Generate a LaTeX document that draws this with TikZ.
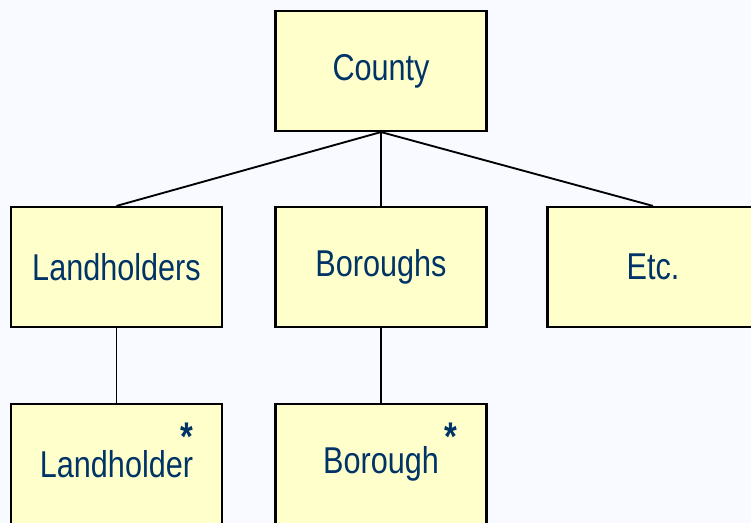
\documentclass[tikz,border=0pt]{standalone}
\usepackage{fontspec}
\setmainfont{Liberation Sans}[FakeStretch=0.82]
\definecolor{pagebg}{RGB}{248,250,255}
\definecolor{boxfill}{RGB}{255,255,204}
\definecolor{labelblue}{RGB}{0,51,102}
\begin{document}
\begin{tikzpicture}[x=0.75pt,y=-0.75pt,
  unit/.style={draw=black,line width=1.6pt,fill=boxfill,minimum width=211*0.75pt,
    minimum height=120*0.75pt,inner sep=0pt,text=labelblue,font=\fontsize{28}{30}\selectfont},
  mult/.style={text=labelblue,font=\bfseries\fontsize{30}{30}\selectfont,inner sep=0pt},
  link/.style={draw=black,line width=1.4pt}]
  \fill[pagebg] (0,0) rectangle (751,523);
  \useasboundingbox (0,0) rectangle (751,523);
  \clip (0,0) rectangle (751,523);
  % hierarchy boxes
  \node[unit] (county) at (381,71) {County};
  \node[unit] (landholders) at (116.5,267) {Landholders};
  \node[unit] (boroughs) at (381,267) {Boroughs};
  \node[unit] (etc) at (653,267) {Etc.};
  \node[unit] (landholder) at (116.5,464) {Landholder};
  \node[unit] (borough) at (381,464) {Borough};
  % repetition markers
  \node[mult] (lhstar) at (187,437) {*};
  \node[mult] (bstar) at (451,437) {*};
  % connectors
  \draw[link] (county.south) -- (landholders.north);
  \draw[link] (county.south) -- (boroughs.north);
  \draw[link] (county.south) -- (etc.north);
  \draw[link] (landholders.south) -- (landholder.north);
  \draw[link] (boroughs.south) -- (borough.north);
\end{tikzpicture}
\end{document}
